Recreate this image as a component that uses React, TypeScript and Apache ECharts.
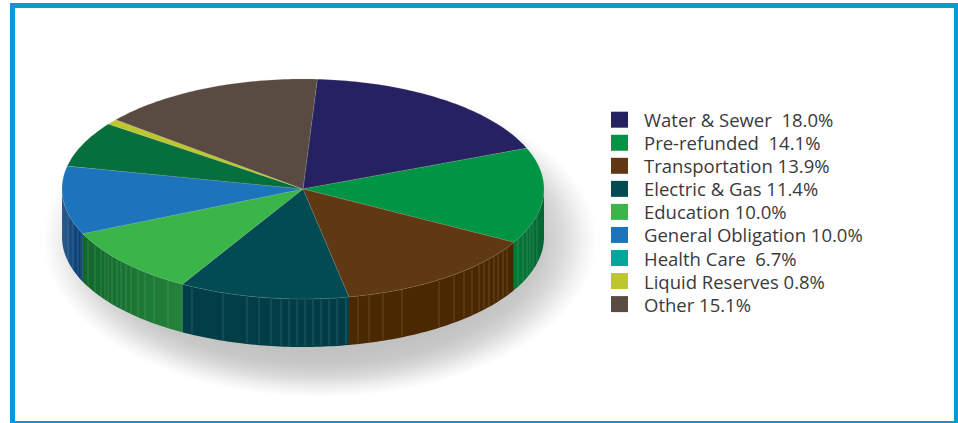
import React, { useEffect, useRef } from "react";
import * as echarts from "echarts";

const categories = ["Water & Sewer", "Pre-refunded", "Transportation", "Electric & Gas", "Education", "General Obligation", "Health Care", "Liquid Reserves", "Other"];
const values = [18.0, 14.1, 13.9, 11.4, 10.0, 10.0, 6.7, 0.8, 15.1];
const legendLabels = ["Water & Sewer  18.0%", "Pre-refunded  14.1%", "Transportation 13.9%", "Electric & Gas 11.4%", "Education 10.0%", "General Obligation 10.0%", "Health Care  6.7%", "Liquid Reserves 0.8%", "Other 15.1%"];
const topColors = ["#262262", "#009444", "#603913", "#024b53", "#39B54A", "#1C75BC", "#056F3E", "#BEC62D", "#594A42"];
const legendColors = ["#262262", "#009444", "#603913", "#024b53", "#39B54A", "#1C75BC", "#00A79D", "#BEC62D", "#594A42"];
const sideLeft = ["#1a174a", "#047a38", "#4a2800", "#023e47", "#10682b", "#2c5a8c", "#04552f", "#8e9420", "#433731"];
const sideRight = ["#1a174a", "#046631", "#4a2800", "#023e47", "#24833a", "#013a70", "#04552f", "#8e9420", "#433731"];
const stripeXs = [
  [], [518, 523, 527, 530, 533, 537],
  [358, 369, 383, 402, 439, 454, 464, 472, 479, 484, 489, 494, 498, 503, 507],
  [192, 223, 247, 259, 271, 281, 289, 297, 305, 313, 321, 329, 337, 346],
  [88, 95, 101, 105, 108, 112, 117, 121, 126, 131, 138, 145, 154, 168],
  [68, 73, 78, 81], [], [], [],
];
const startDeg = 3.4;
const CX = 303, CY = 189, RX = 241, RY = 110, DEPTH = 48;

const rim = (deg: number, dy = 0): [number, number] => {
  const t = (deg * Math.PI) / 180;
  return [CX + RX * Math.sin(t), CY - RY * Math.cos(t) + dy];
};
const arcPts = (a: number, b: number, dy = 0) => {
  const pts: [number, number][] = [];
  const n = Math.max(2, Math.ceil(Math.abs(b - a)));
  for (let i = 0; i <= n; i++) pts.push(rim(a + ((b - a) * i) / n, dy));
  return pts;
};

const sliceSeries = (index: number) => {
  const before = values.slice(0, index).reduce((s, v) => s + v, 0);
  const total = values.reduce((s, v) => s + v, 0);
  return {
    type: "custom",
    name: legendLabels[index],
    coordinateSystem: "none",
    silent: true,
    data: [{ name: categories[index], value: values[index] }],
    itemStyle: { color: legendColors[index] },
    renderItem: (_: any, api: any) => {
      const value = api.value(0);
      const a = startDeg + (before / total) * 360;
      const b = a + (value / total) * 360;
      const children: any[] = [];
      const sa = Math.max(a, 90), sb = Math.min(b, 270);
      if (sb > sa) {
        children.push({
          type: "polygon",
          shape: { points: [...arcPts(sa, sb), ...arcPts(sb, sa, DEPTH)] },
          style: {
            fill: new echarts.graphic.LinearGradient(0, 0, 1, 0, [
              { offset: 0, color: sideLeft[index] },
              { offset: 1, color: sideRight[index] },
            ]),
          },
        });
        stripeXs[index].forEach((x) => {
          const u = (x - CX) / RX;
          const y = CY + RY * Math.sqrt(Math.max(0, 1 - u * u));
          children.push({
            type: "line",
            shape: { x1: x, y1: y + 1, x2: x, y2: y + DEPTH - 1 },
            style: { stroke: "rgba(255,255,255,0.22)", lineWidth: 0.7 },
          });
        });
      }
      children.push({
        type: "polygon",
        shape: { points: [[CX, CY], ...arcPts(a, b)] },
        style: { fill: topColors[index], stroke: "rgba(200,200,190,0.35)", lineWidth: 0.5 },
      });
      return { type: "group", children };
    },
  };
};

export default function App() {
  const ref = useRef<HTMLDivElement>(null);
  useEffect(() => {
    const chart = echarts.init(ref.current!, undefined, { renderer: "svg" });
    chart.setOption({
      animation: false,
      backgroundColor: "#ffffff",
      graphic: [
        {
          type: "ellipse",
          silent: true,
          shape: { cx: 320, cy: 240, rx: 277, ry: 157 },
          style: {
            fill: new echarts.graphic.RadialGradient(0.5, 0.5, 0.5, [
              { offset: 0, color: "#c0c0c0" },
              { offset: 0.72, color: "#c2c2c2" },
              { offset: 0.8, color: "#c8c8c8" },
              { offset: 0.87, color: "#d8d8d8" },
              { offset: 0.95, color: "#f2f2f2" },
              { offset: 1, color: "#ffffff" },
            ]),
          },
        },
        {
          type: "rect",
          silent: true,
          shape: { x: 12.5, y: 5.5, width: 944, height: 418 },
          style: { fill: "none", stroke: "#0a99d8", lineWidth: 5 },
        },
      ],
      legend: {
        orient: "vertical",
        left: 611,
        top: 110.2,
        padding: 0,
        itemWidth: 17,
        itemHeight: 16,
        itemGap: 4.05,
        icon: "rect",
        selectedMode: false,
        textStyle: { fontFamily: "Open Sans", fontSize: 18.5, lineHeight: 16, color: "#3a3a3c", padding: [0, 0, 0, 11] },
        data: legendLabels.map((name, i) => ({ name, itemStyle: { color: legendColors[i] } })),
      },
      series: values.map((_, i) => sliceSeries(i)),
    });
    return () => chart.dispose();
  }, []);
  return <div ref={ref} style={{ position: "fixed", left: 0, top: 0, width: 958, height: 423 }} />;
}
